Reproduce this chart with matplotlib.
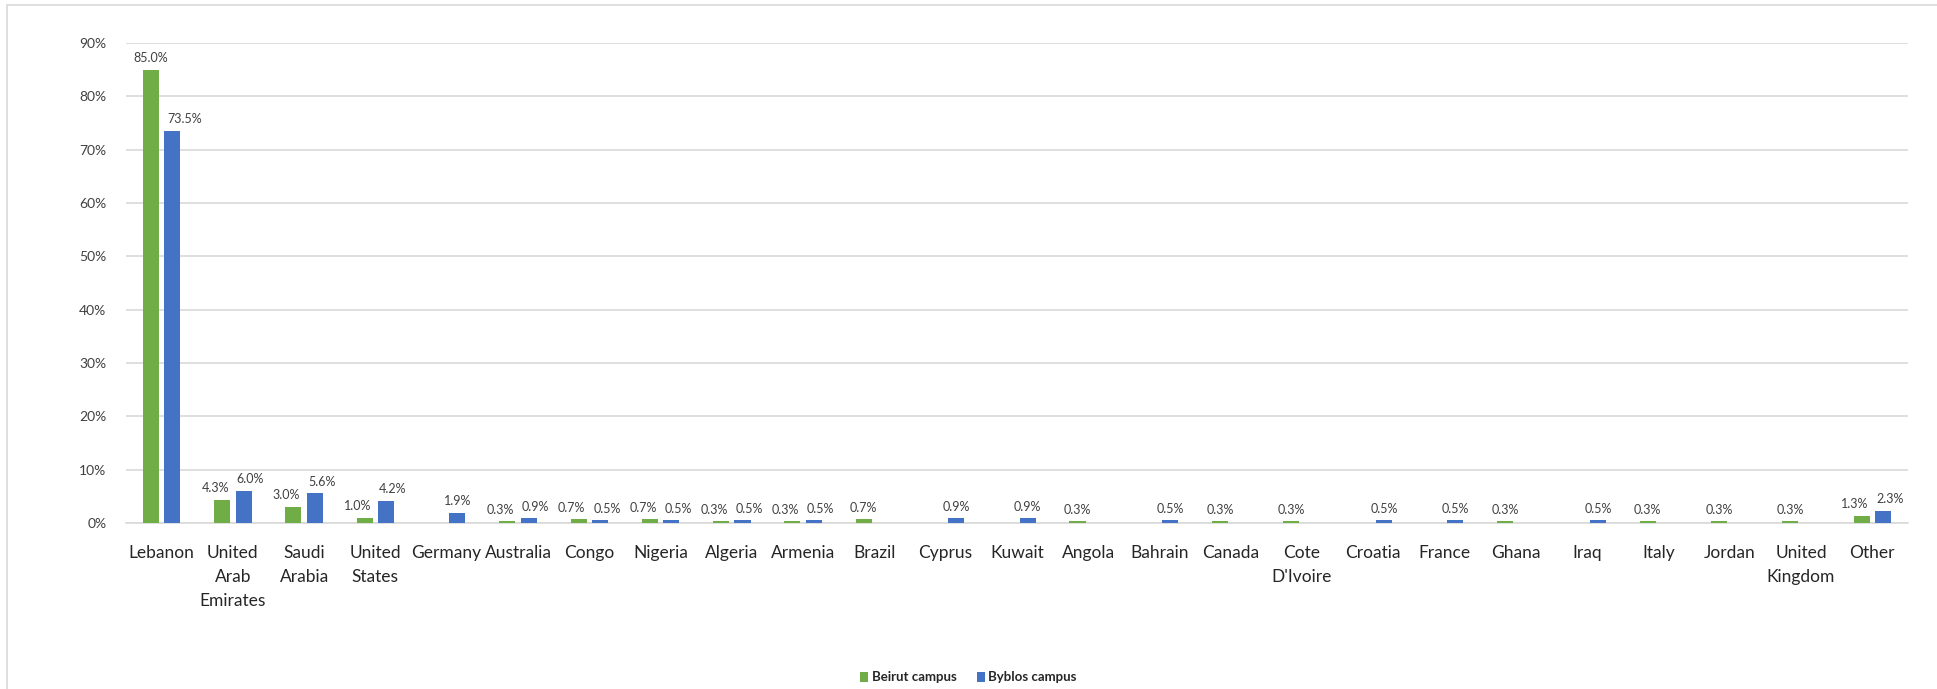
import numpy as np
import matplotlib.pyplot as plt
from matplotlib.patches import Rectangle

plt.rcParams['font.family'] = ['Lato', 'DejaVu Sans']

# countries and shares (%) per campus
countries = ['Lebanon', 'United\nArab\nEmirates', 'Saudi\nArabia', 'United\nStates', 'Germany',
             'Australia', 'Congo', 'Nigeria', 'Algeria', 'Armenia', 'Brazil', 'Cyprus', 'Kuwait',
             'Angola', 'Bahrain', 'Canada', "Cote\nD'Ivoire", 'Croatia', 'France', 'Ghana', 'Iraq',
             'Italy', 'Jordan', 'United\nKingdom', 'Other']
beirut = [85.0, 4.3, 3.0, 1.0, 0, 0.3, 0.7, 0.7, 0.3, 0.3, 0.7, 0, 0,
          0.3, 0, 0.3, 0.3, 0, 0, 0.3, 0, 0.3, 0.3, 0.3, 1.3]
byblos = [73.5, 6.0, 5.6, 4.2, 1.9, 0.9, 0.5, 0.5, 0.5, 0.5, 0, 0.9, 0.9,
          0, 0.5, 0, 0, 0.5, 0.5, 0, 0.5, 0, 0, 0, 2.3]

green = '#70AD47'
blue = '#4472C4'
text_col = '#404040'

fig = plt.figure(figsize=(19.37, 6.89), dpi=100)
fig.patches.append(Rectangle((0.0036, -0.05), 1.2, 1.05 - 0.0073, transform=fig.transFigure,
                             fill=False, edgecolor='#D9D9D9', linewidth=1.2))
ax = fig.add_axes([0.065, 0.241, 0.92, 0.6966])

x = np.arange(len(countries))
w = 0.225
b1 = ax.bar(x - 0.15, beirut, w, color=green, label='Beirut campus', zorder=3)
b2 = ax.bar(x + 0.15, byblos, w, color=blue, label='Byblos campus', zorder=3)

def fmt(vals):
    return ['' if v == 0 else f'{v:.1f}%' for v in vals]

lab1 = ax.bar_label(b1, labels=fmt(beirut), padding=4, fontsize=9, color=text_col)
lab2 = ax.bar_label(b2, labels=fmt(byblos), padding=4, fontsize=9, color=text_col)
# push paired labels apart a little (offsets in points) so they don't collide
for i in range(1, len(countries)):
    if beirut[i] and byblos[i]:
        lab1[i].set_x(-5)
        lab2[i].set_x(5)
# the big Byblos label sits a bit to the right, clear of the green bar
lab2[0].set_horizontalalignment('left')
lab2[0].set_x(-3.5)

ax.set_ylim(0, 90)
ax.set_xlim(-0.5, len(countries) - 0.5)
ax.set_yticks(np.arange(0, 91, 10))
ax.set_yticklabels([f'{t}%' for t in range(0, 91, 10)])
ax.set_xticks(x)
ax.set_xticklabels(countries, linespacing=1.6)
ax.tick_params(axis='y', length=0, labelsize=10, labelcolor=text_col, pad=14)
ax.tick_params(axis='x', length=0, labelsize=12.5, labelcolor='#262626', pad=16)

ax.grid(axis='y', color='#D9D9D9', linewidth=1.2, zorder=0)
for s in ['top', 'right', 'left']:
    ax.spines[s].set_visible(False)
ax.spines['bottom'].set_color('#D9D9D9')
ax.spines['bottom'].set_linewidth(1.2)

leg = fig.legend(loc='center', bbox_to_anchor=(0.5, 0.017), ncol=2, frameon=False,
                 prop={'size': 9.5, 'weight': 'bold'}, handlelength=0.6, handleheight=0.8,
                 handletextpad=0.3, columnspacing=1.5)
for t in leg.get_texts():
    t.set_color('#262626')

fig.savefig('out.png', dpi=100, facecolor='white')
